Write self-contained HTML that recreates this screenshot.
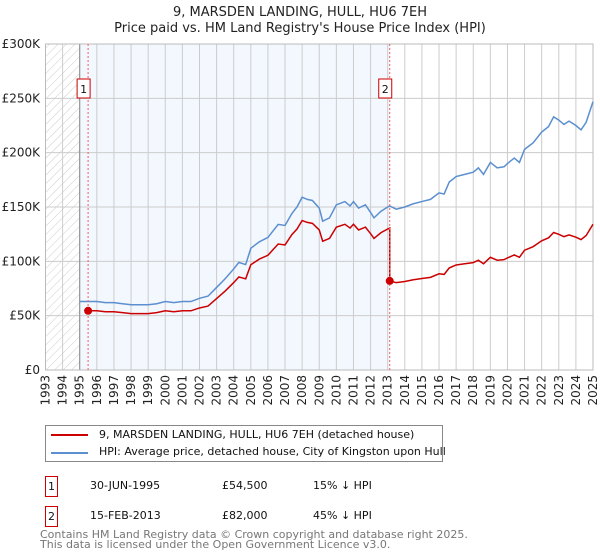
<!DOCTYPE html>
<html><head><meta charset="utf-8"><style>
body{margin:0;background:#fff;font-family:"DejaVu Sans","Liberation Sans",sans-serif;}
#wrap{position:relative;width:600px;height:560px;overflow:hidden}
.t{position:absolute;white-space:nowrap}
</style></head><body><div id="wrap">
<svg id="chart" width="600" height="560" style="position:absolute;left:0;top:0"></svg>
<div class="t" style="left:45px;top:425px;width:396px;height:35px;border:1px solid #888;font-size:11px;color:#111">
 <div style="position:absolute;left:5px;top:8px;width:37px;height:2px;background:#cc0000"></div>
 <div style="position:absolute;left:53px;top:2px">9, MARSDEN LANDING, HULL, HU6 7EH (detached house)</div>
 <div style="position:absolute;left:5px;top:26px;width:37px;height:2px;background:#5b8fd0"></div>
 <div style="position:absolute;left:53px;top:19px">HPI: Average price, detached house, City of Kingston upon Hull</div>
</div>
<div class="t" style="left:0;top:476px;font-size:11px;color:#111">
 <div class="t" style="left:45px;top:0;width:11px;height:19px;border:1px solid #cc0000;text-align:center;line-height:19px">1</div>
 <div class="t" style="left:90px;top:3px">30-JUN-1995</div>
 <div class="t" style="left:222px;top:3px">£54,500</div>
 <div class="t" style="left:313px;top:3px">15% ↓ HPI</div>
</div>
<div class="t" style="left:0;top:506px;font-size:11px;color:#111">
 <div class="t" style="left:45px;top:0;width:11px;height:19px;border:1px solid #cc0000;text-align:center;line-height:19px">2</div>
 <div class="t" style="left:90px;top:3px">15-FEB-2013</div>
 <div class="t" style="left:222px;top:3px">£82,000</div>
 <div class="t" style="left:313px;top:3px">45% ↓ HPI</div>
</div>
<div class="t" style="left:40px;top:530px;font-size:11px;color:#777;line-height:10px">Contains HM Land Registry data © Crown copyright and database right 2025.<br>This data is licensed under the Open Government Licence v3.0.</div>
</div>
<script>
const yTicks=[0,50,100,150,200,250,300];
const yTickLabels=["£0","£50K","£100K","£150K","£200K","£250K","£300K"];
const years=[1993,1994,1995,1996,1997,1998,1999,2000,2001,2002,2003,2004,2005,2006,2007,2008,2009,2010,2011,2012,2013,2014,2015,2016,2017,2018,2019,2020,2021,2022,2023,2024,2025];
const hpiT=[1995,1995.5,1996,1996.5,1997,1997.5,1998,1998.5,1999,1999.5,2000,2000.5,2001,2001.5,2002,2002.5,2003,2003.5,2004,2004.3,2004.7,2005,2005.5,2006,2006.3,2006.6,2007,2007.4,2007.7,2008,2008.3,2008.6,2009,2009.2,2009.6,2010,2010.5,2010.8,2011,2011.3,2011.7,2012,2012.2,2012.6,2013,2013.12,2013.5,2014,2014.5,2015,2015.5,2016,2016.3,2016.6,2017,2017.5,2018,2018.3,2018.6,2019,2019.4,2019.8,2020,2020.4,2020.7,2021,2021.5,2022,2022.4,2022.7,2023,2023.3,2023.6,2024,2024.3,2024.6,2025];
const hpiV=[63,63,63,62,62,61,60,60,60,61,63,62,63,63,66,68,76,84,93,99,97,112,118,122,128,134,133,144,150,159,157,156,149,137,140,152,155,151,155,149,152,145,140,146,150,151,148,150,153,155,157,163,162,173,178,180,182,186,180,191,186,187,190,195,191,203,209,219,224,233,230,226,229,225,221,228,247];
const saleT=[1995.49,2013.12];
const saleV=[54.5,82];
const NS="http://www.w3.org/2000/svg";
const svg=document.getElementById('chart');
const L=45.5,R=593,T=44,B=370;
const x=t=>L+(t-1993)/(2025-1993)*(R-L);
const y=v=>B-v/300*(B-T);
function el(tag,attrs,parent){const e=document.createElementNS(NS,tag);for(const k in attrs)e.setAttribute(k,attrs[k]);(parent||svg).appendChild(e);return e;}
const defs=el('defs',{});
const pat=el('pattern',{id:'hatch',width:6,height:6,patternUnits:'userSpaceOnUse',patternTransform:'rotate(45)'},defs);
el('line',{x1:0,y1:0,x2:0,y2:6,stroke:'#ccc','stroke-width':1},pat);
const hatch=el('rect',{x:x(1993),y:T,width:x(1995)-x(1993),height:B-T,fill:'url(#hatch)'});

const shade=el('rect',{x:x(1995),y:T,width:x(saleT[1])-x(1995),height:B-T,fill:'#f3f7fe'});

years.forEach(yr=>{const g=el('line',{x1:x(yr),x2:x(yr),y1:T,y2:B,stroke:'#ccc','stroke-width':1});

const tx=el('text',{x:0,y:0,transform:`translate(${x(yr)+4},${B+5}) rotate(-90)`,'text-anchor':'end','font-size':12,fill:'#222'});tx.textContent=yr;
});
yTicks.forEach((v,i)=>{const g=el('line',{x1:L,x2:R,y1:y(v),y2:y(v),stroke:'#ccc','stroke-width':1});

const tx=el('text',{x:40,y:y(v)+4,'text-anchor':'end','font-size':12,fill:'#222'});tx.textContent=yTickLabels[i];
});
const ax=el('line',{x1:x(1995),x2:x(1995),y1:T,y2:B,stroke:'#888'});
const fr=el('rect',{x:L,y:T,width:R-L,height:B-T,fill:'none',stroke:'#bbb'});
function hpiAt(t){for(let i=1;i<hpiT.length;i++){if(t<=hpiT[i]){const f=(t-hpiT[i-1])/(hpiT[i]-hpiT[i-1]);return hpiV[i-1]+f*(hpiV[i]-hpiV[i-1]);}}return hpiV[hpiV.length-1];}
const hp=el('polyline',{points:hpiT.map((t,i)=>x(t)+','+y(hpiV[i])).join(' '),fill:'none',stroke:'#5b8fd0','stroke-width':1.5});

let pts=[];
saleT.forEach((st,s)=>{const r=saleV[s]/hpiAt(st);const last=s+1>=saleT.length;const end=last?hpiT[hpiT.length-1]:saleT[s+1];
pts.push([st,saleV[s]]);hpiT.forEach((t,i)=>{if(t>st&&(t<end||(last&&t<=end)))pts.push([t,hpiV[i]*r]);});
if(!last)pts.push([end,hpiAt(end)*r]);});
const pl=el('polyline',{points:pts.map(p=>x(p[0])+','+y(p[1])).join(' '),fill:'none',stroke:'#cc0000','stroke-width':1.5});

saleT.forEach((st,s)=>{const v=el('line',{x1:x(st),x2:x(st),y1:T,y2:B,stroke:'#f06060','stroke-dasharray':'2,2'});

const d=el('circle',{cx:x(st),cy:y(saleV[s]),r:4,fill:'#cc0000'});
const bx=el('rect',{x:x(st)-11,y:79,width:13,height:19,fill:'#fff',stroke:'#cc0000'});
const bt=el('text',{x:x(st)-4.5,y:93,'text-anchor':'middle','font-size':11,fill:'#111'});bt.textContent=String(s+1);});
[["9, MARSDEN LANDING, HULL, HU6 7EH",16],["Price paid vs. HM Land Registry's House Price Index (HPI)",32]].forEach((a,i)=>{const t=el('text',{x:300,y:a[1],'text-anchor':'middle','font-size':13,fill:'#222'});t.textContent=a[0];
});
</script></body></html>
